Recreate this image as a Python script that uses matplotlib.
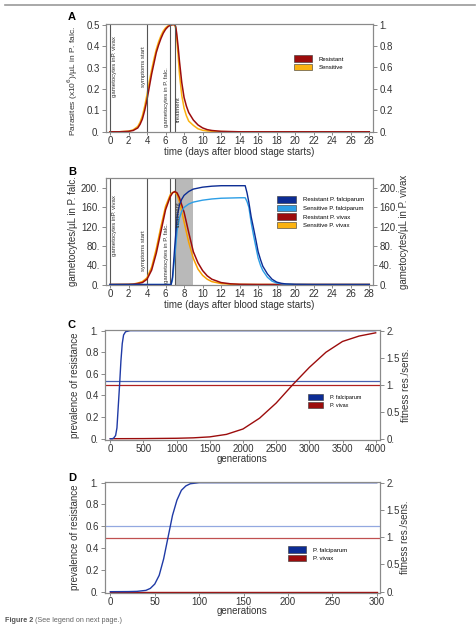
import matplotlib.pyplot as plt
from matplotlib.patches import Patch
from matplotlib.ticker import FuncFormatter

plt.rcParams['font.family'] = ['Liberation Sans', 'DejaVu Sans']

# ---- panel A: parasites (x10^6)/uL
days_a = [0, 1, 2, 2.5, 3, 3.25, 3.5, 3.75, 4, 4.25, 4.5, 4.75, 5, 5.25, 5.5, 5.75, 6, 6.25,
          6.5, 6.75, 7, 7.1, 7.2, 7.35, 7.5, 7.75, 8, 8.25, 8.5, 9, 9.5, 10, 10.5, 11, 12, 13, 14, 28]
para_res = [0, 0, 0.002, 0.006, 0.018, 0.035, 0.06, 0.1, 0.15, 0.21, 0.27, 0.32, 0.37, 0.405, 0.435,
            0.46, 0.478, 0.49, 0.497, 0.5, 0.5, 0.49, 0.46, 0.4, 0.33, 0.23, 0.16, 0.12, 0.09, 0.055,
            0.032, 0.018, 0.01, 0.006, 0.002, 0.001, 0, 0]
para_sens = [0, 0, 0.003, 0.009, 0.025, 0.045, 0.075, 0.12, 0.175, 0.235, 0.29, 0.34, 0.385, 0.42,
             0.448, 0.47, 0.485, 0.494, 0.499, 0.5, 0.5, 0.48, 0.44, 0.36, 0.27, 0.17, 0.11, 0.075,
             0.05, 0.03, 0.014, 0.007, 0.004, 0.002, 0.001, 0, 0, 0]

# ---- panel B: gametocytes/uL
days_viv = [0, 2, 2.5, 3, 3.5, 4, 4.5, 5, 5.5, 6, 6.5, 6.75, 7, 7.25, 7.5, 8, 8.5, 9, 9.5, 10,
            10.5, 11, 12, 13, 14, 16, 28]
viv_res = [0, 0.3, 0.8, 2, 4, 11, 30, 65, 110, 155, 182, 190, 193, 190, 180, 150, 108, 68, 45, 29,
           18, 11, 4, 1.5, 0.5, 0.1, 0]
viv_sens = [0, 0.4, 1, 3, 6, 14, 36, 74, 120, 162, 186, 191, 192, 186, 172, 130, 88, 54, 32, 19,
            11, 6, 2, 0.6, 0.2, 0, 0]
days_fal = [0, 6.6, 6.75, 7, 7.25, 7.5, 7.75, 8, 8.5, 9, 10, 11, 12, 14, 14.6, 14.8, 15, 15.25,
            15.5, 15.75, 16, 16.25, 16.5, 17, 17.5, 18, 18.5, 19, 20, 22, 28]
fal_res = [0, 0, 15, 80, 140, 165, 177, 185, 193, 198, 202, 204, 205, 205, 205, 190, 170, 140,
           117, 93, 68, 52, 38, 22, 11, 5, 2.5, 1.2, 0.3, 0, 0]
fal_sens = [0, 0, 10, 60, 112, 138, 152, 160, 167, 171, 175, 177.5, 179, 180, 180, 172, 160, 128,
            102, 78, 55, 40, 29, 15, 7, 3, 1.5, 0.7, 0.2, 0, 0]

# ---- panel C: prevalence over 4000 generations
gen_c_fal = [0, 30, 50, 80, 100, 120, 140, 160, 180, 200, 230, 300, 4000]
prev_c_fal = [0, 0, 0.005, 0.03, 0.1, 0.3, 0.5, 0.72, 0.88, 0.96, 0.99, 1, 1]
gen_c_viv = [0, 500, 1000, 1250, 1500, 1750, 2000, 2250, 2500, 2750, 3000, 3250, 3500, 3750, 4000]
prev_c_viv = [0, 0.001, 0.004, 0.008, 0.017, 0.04, 0.09, 0.19, 0.33, 0.5, 0.66, 0.8, 0.9, 0.95, 0.98]
fit_c = [1.064, 1.0]  # falciparum, vivax

# ---- panel D: prevalence over 300 generations
gen_d_fal = [0, 20, 30, 40, 45, 50, 55, 60, 65, 70, 75, 80, 85, 90, 100, 300]
prev_d_fal = [0, 0.001, 0.003, 0.012, 0.03, 0.07, 0.15, 0.3, 0.5, 0.7, 0.84, 0.93, 0.97, 0.99, 1, 1]
gen_d_viv = [0, 300]
prev_d_viv = [0, 0]
fit_d = [1.2, 0.98]

RED = '#9c0c0c'
ORANGE = '#fbb210'
DBLUE = '#0c2c94'
LBLUE = '#2c9ee6'
VLINE = '#555555'
FRAME = '#8a8a8a'
TXT = '#333333'

W, H = 477, 628
fig = plt.figure(figsize=(W / 100, H / 100), dpi=100)


def box(l, t, r, b):
    return [l / W, 1 - b / H, (r - l) / W, (b - t) / H]


def dotfmt(v, pos):
    s = ('%g' % round(v, 6))
    return s if '.' in s else s + '.'


def style(ax):
    for s in ax.spines.values():
        s.set_color(FRAME)
        s.set_linewidth(0.8)
    ax.tick_params(colors=FRAME, labelcolor=TXT, labelsize=7, width=0.7)
    ax.tick_params(axis='x', length=2, pad=1)
    ax.tick_params(axis='y', length=3, pad=1.5)


def vtext(ax, x, y, s, ha):
    ax.text(x, y, s, rotation=90, fontsize=4.3, color=TXT, ha=ha, va='top')


def leg(ax, items, x, y, fs, hl, hh):
    h = [Patch(facecolor=c, edgecolor='#333333', linewidth=0.4, label=l) for l, c in items]
    ax.legend(handles=h, loc='upper left', bbox_to_anchor=(x, y), frameon=False, fontsize=fs,
              handlelength=hl, handleheight=hh, handletextpad=1.2, labelspacing=0.35,
              borderaxespad=0, borderpad=0)


def labels(ax, xl, xly, yl, ylx, fs=7, yly=0.5):
    ax.set_xlabel(xl, fontsize=7, color=TXT)
    ax.xaxis.set_label_coords(0.5, xly)
    ax.set_ylabel(yl, fontsize=fs, color=TXT)
    ax.yaxis.set_label_coords(ylx, yly)


# Panel A
ax = fig.add_axes(box(106, 24, 373, 132))
ax.plot(days_a, para_sens, color=ORANGE, lw=1.1)
ax.plot(days_a, para_res, color=RED, lw=1.1)
for d in [0, 4, 6.5, 7]:
    ax.axvline(d, color=VLINE, lw=0.8)
vtext(ax, 0.25, 0.445, 'gametocytes inP. vivax', 'left')
vtext(ax, 3.9, 0.4, 'symptoms start', 'right')
vtext(ax, 6.4, 0.3, 'gametocytes in P. falc.', 'right')
vtext(ax, 7.15, 0.165, 'treatment', 'left')
ax.set_xlim(-0.43, 28.4)
ax.set_ylim(-0.001, 0.503)
ax.set_xticks(range(0, 29, 2))
ax.set_yticks([0, 0.1, 0.2, 0.3, 0.4, 0.5])
ax.yaxis.set_major_formatter(FuncFormatter(dotfmt))
labels(ax, 'time (days after blood stage starts)', -0.139, 'Parasites (x10$^6$)/µL in P. falc.',
       -0.098, 6.0, 0.47)
style(ax)
leg(ax, [('Resistant', RED), ('Sensitive', ORANGE)], 0.705, 0.71, 4.3, 2.9, 1.3)
ax2 = ax.twinx()
ax2.set_ylim(-0.002, 1.006)
ax2.set_yticks([0, 0.2, 0.4, 0.6, 0.8, 1.0])
ax2.yaxis.set_major_formatter(FuncFormatter(dotfmt))
style(ax2)
fig.text(72 / W, 1 - 17 / H, 'A', fontsize=8, fontweight='bold', ha='center', va='center')

# Panel B
ax = fig.add_axes(box(106, 178, 373, 285))
ax.axvspan(7, 9, color='#b9b9b9', lw=0)
for d in [0, 4, 6.5, 7]:
    ax.axvline(d, color=VLINE, lw=0.8)
ax.plot(days_viv, viv_sens, color='#f7a000', lw=1.1)
ax.plot(days_viv, viv_res, color=RED, lw=1.1)
ax.plot(days_fal, fal_sens, color=LBLUE, lw=1.0)
ax.plot(days_fal, fal_res, color=DBLUE, lw=1.0)
vtext(ax, 0.25, 186, 'gametocytes inP. vivax', 'left')
vtext(ax, 3.9, 113, 'symptoms start', 'right')
vtext(ax, 6.4, 128, 'gametocytes in P. falc.', 'right')
vtext(ax, 7.15, 172, 'treatment', 'left')
ax.set_xlim(-0.43, 28.4)
ax.set_ylim(-1, 221)
ax.set_xticks(range(0, 29, 2))
ax.set_yticks([0, 40, 80, 120, 160, 200])
ax.yaxis.set_major_formatter(FuncFormatter(dotfmt))
labels(ax, 'time (days after blood stage starts)', -0.14, 'gametocytes/µL in P. falc.', -0.105)
style(ax)
leg(ax, [('Resistant P. falciparum', DBLUE), ('Sensitive P. falciparum', LBLUE),
         ('Resistant P. vivax', RED), ('Sensitive P. vivax', ORANGE)], 0.64, 0.83, 4.3, 3.2, 1.3)
ax2 = ax.twinx()
ax2.set_ylim(-1, 221)
ax2.set_yticks([0, 40, 80, 120, 160, 200])
ax2.yaxis.set_major_formatter(FuncFormatter(dotfmt))
ax2.set_ylabel('gametocytes/µL in P. vivax', fontsize=7, color=TXT)
ax2.yaxis.set_label_coords(1.097, 0.5)
style(ax2)
fig.text(72 / W, 1 - 172 / H, 'B', fontsize=8, fontweight='bold', ha='center', va='center')


def prev_panel(t, b, gf, pf, gv, pv, fit, xlim, xticks, hblue, hred, legx, fs, hl, letter, ly, rx, xly):
    ax = fig.add_axes(box(105, t, 380, b))
    ax.axhline(fit[0] / 2, color=hblue, lw=0.9)
    ax.axhline(fit[1] / 2, color=hred, lw=0.9)
    ax.plot(gv, pv, color=RED, lw=1.0)
    ax.plot(gf, pf, color='#1f3aa6', lw=1.0)
    ax.set_xlim(*xlim)
    ax.set_ylim(-0.012, 1.006)
    ax.set_xticks(xticks)
    ax.set_yticks([0, 0.2, 0.4, 0.6, 0.8, 1.0])
    ax.yaxis.set_major_formatter(FuncFormatter(dotfmt))
    labels(ax, 'generations', xly, 'prevalence of resistance', -0.091)
    style(ax)
    leg(ax, [('P. falciparum', DBLUE), ('P. vivax', RED)], legx, 0.42, fs, hl, 1.3)
    ax2 = ax.twinx()
    ax2.set_ylim(-0.024, 2.012)
    ax2.set_yticks([0, 0.5, 1.0, 1.5, 2.0])
    ax2.yaxis.set_major_formatter(FuncFormatter(dotfmt))
    ax2.set_ylabel('fitness res./sens.', fontsize=7, color=TXT)
    ax2.yaxis.set_label_coords(rx, 0.5)
    style(ax2)
    fig.text(72 / W, 1 - ly / H, letter, fontsize=8, fontweight='bold', ha='center', va='center')


prev_panel(330, 440, gen_c_fal, prev_c_fal, gen_c_viv, prev_c_viv, fit_c, (-80, 4065),
           range(0, 4001, 500), '#4860b0', '#b02020', 0.74, 4.0, 2.6, 'C', 325, 1.076, -0.127)
prev_panel(482, 593, gen_d_fal, prev_d_fal, gen_d_viv, prev_d_viv, fit_d, (-6, 303.6),
           range(0, 301, 50), '#93a8e0', '#c05050', 0.665, 4.3, 3.0, 'D', 478, 1.073, -0.12)

# page decorations
fig.add_artist(plt.Line2D([5 / W, 475 / W], [1 - 5 / H, 1 - 5 / H], color='#9a9a9a', lw=1.2))
fig.text(5 / W, 1 - 621 / H, 'Figure 2', fontsize=5.2, fontweight='bold', color='#555555', va='center')
fig.text(35 / W, 1 - 621 / H, '(See legend on next page.)', fontsize=5.2, color='#666666', va='center')

fig.savefig('out.png', dpi=100)
